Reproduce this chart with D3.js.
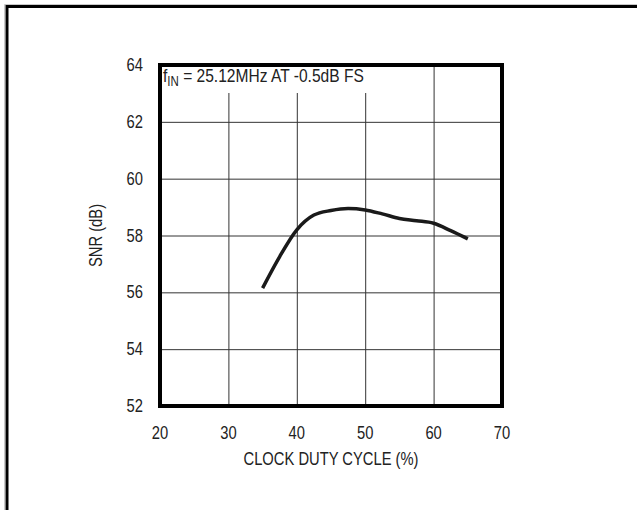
<!DOCTYPE html>
<html><head><meta charset="utf-8">
<script src="https://cdn.jsdelivr.net/npm/d3@7"></script>
<style>body{margin:0;background:#fff}svg{display:block}text{font-family:"Liberation Sans",Arial,sans-serif;fill:#222}</style>
</head><body><svg id="c" width="637" height="510"></svg>
<script>
const dutyCycle = [35, 37.5, 40, 42.5, 45, 47.5, 50, 52.5, 55, 57.5, 60, 62.5, 65];
const snr = [56.15, 57.26, 58.2, 58.72, 58.88, 58.95, 58.9, 58.76, 58.6, 58.52, 58.43, 58.17, 57.88];
const xTicks = [20, 30, 40, 50, 60, 70];
const yTicks = [52, 54, 56, 58, 60, 62, 64];
const xTitle = "CLOCK DUTY CYCLE (%)";
const yTitle = "SNR (dB)";

const SX = 0.82, FS = 18;
const svg = d3.select("#c");
// outer frame (top and left edges)
svg.append("path").attr("d","M4.5,510 V4.5 H637").attr("fill","none").attr("stroke","#c8c8c8").attr("stroke-width",1);
svg.append("path").attr("d","M7,510 V6.5 H637").attr("fill","none").attr("stroke","#000").attr("stroke-width",3);

const L=160, R=502, T=65, B=406;
const x = d3.scaleLinear().domain([20,70]).range([L,R]);
const y = d3.scaleLinear().domain([52,64]).range([B,T]);

function label(px, py, str, anchor, rot){
  return svg.append("text")
    .attr("transform",`translate(${px},${py})${rot?` rotate(${rot})`:""} scale(${SX},1)`)
    .attr("text-anchor",anchor).attr("font-size",FS).text(str);
}

// grid
const g = svg.append("g");
g.append("g").attr("transform",`translate(0,${B})`)
 .call(d3.axisBottom(x).tickValues(xTicks.slice(1,-1)).tickSize(-(B-T)).tickFormat(""))
 .call(s=>{s.select(".domain").remove();s.selectAll("line").attr("stroke","#333").attr("stroke-width",1);});
g.append("g").attr("transform",`translate(${L},0)`)
 .call(d3.axisLeft(y).tickValues(yTicks.slice(1,-1)).tickSize(-(R-L)).tickFormat(""))
 .call(s=>{s.select(".domain").remove();s.selectAll("line").attr("stroke","#333").attr("stroke-width",1);});

// annotation box
svg.append("rect").attr("x",L).attr("y",T).attr("width",208).attr("height",28).attr("fill","#fff");
const ann = svg.append("text").attr("transform",`translate(163,82) scale(${SX},1)`).attr("font-size",19);
ann.append("tspan").text("f");
ann.append("tspan").attr("font-size",14).attr("dy",4).text("IN");
ann.append("tspan").attr("dy",-4).text(" = 25.12MHz AT -0.5dB FS");

// curve
const line = d3.line().x((d,i)=>x(dutyCycle[i])).y(d=>y(d)).curve(d3.curveMonotoneX);
svg.append("path").datum(snr).attr("d",line).attr("fill","none").attr("stroke","#1a1a1a").attr("stroke-width",3.5);

// frame
svg.append("rect").attr("x",L).attr("y",T).attr("width",R-L).attr("height",B-T).attr("fill","none").attr("stroke","#000").attr("stroke-width",4);

// tick labels
xTicks.forEach(v=>label(x(v), 439, d3.format("d")(v), "middle"));
yTicks.forEach(v=>label(143, y(v)+6, d3.format("d")(v), "end"));

label((L+R)/2, 465, xTitle, "middle");
label(102, (T+B)/2, yTitle, "middle", -90);
</script></body></html>
